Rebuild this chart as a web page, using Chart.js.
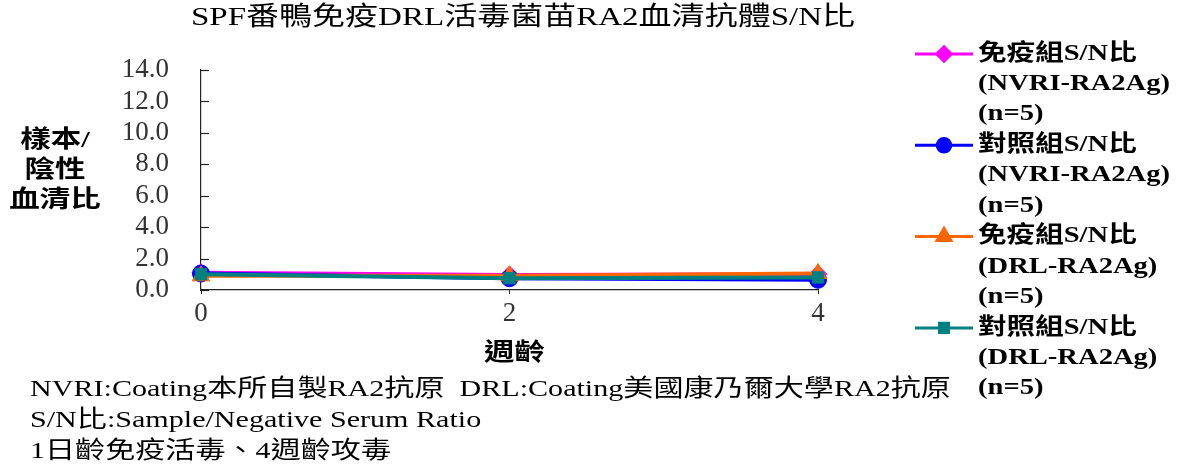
<!DOCTYPE html>
<html>
<head>
    <meta charset="utf-8">
    <title>SPF番鴨免疫DRL活毒菌苗RA2血清抗體S/N比</title>
    <script src="https://cdn.jsdelivr.net/npm/chart.js"></script>
    <style>
        body { margin: 0; background: #fff; }
        #wrap { position: relative; width: 1181px; height: 465px; }
    </style>
</head>
<body>
    <div id="wrap">
        <canvas id="snChart"></canvas>
    </div>

    <script>
        // weeks of age
        const weeks = ['0', '2', '4'];

        // S/N ratio per group (n=5)
        const immuneNvri = [1.1, 0.95, 1.0];
        const controlNvri = [1.05, 0.75, 0.65];
        const immuneDrl = [0.9, 0.9, 1.05];
        const controlDrl = [1.0, 0.75, 0.8];

        const legendLines = [
            ['免疫組S/N比', '(NVRI-RA2Ag)', '(n=5)'],
            ['對照組S/N比', '(NVRI-RA2Ag)', '(n=5)'],
            ['免疫組S/N比', '(DRL-RA2Ag)', '(n=5)'],
            ['對照組S/N比', '(DRL-RA2Ag)', '(n=5)']
        ];

        const titleText = 'SPF番鴨免疫DRL活毒菌苗RA2血清抗體S/N比';
        const yTitleLines = ['樣本/', '陰性', '血清比'];
        const xTitleText = '週齡';
        const notes = [
            'NVRI:Coating本所自製RA2抗原  DRL:Coating美國康乃爾大學RA2抗原',
            'S/N比:Sample/Negative Serum Ratio',
            '1日齡免疫活毒、4週齡攻毒'
        ];

        const SERIF = '"Liberation Serif", "Times New Roman", "Noto Sans CJK TC", serif';
        const STRETCH = 1.27; // text in this chart is drawn a bit wide

        function wideText(ctx, str, x, y, font, align) {
            ctx.save();
            ctx.font = font;
            ctx.fillStyle = '#000';
            ctx.textBaseline = 'middle';
            ctx.textAlign = 'left';
            const w = ctx.measureText(str).width * STRETCH;
            const left = align === 'center' ? x - w / 2 : x;
            ctx.translate(left, y);
            ctx.scale(STRETCH, 1);
            ctx.fillText(str, 0, 0);
            ctx.restore();
        }

        // title, horizontal axis titles, legend and notes
        const textPlugin = {
            id: 'chartText',
            afterDraw(chart) {
                const ctx = chart.ctx;
                const area = chart.chartArea;

                // short tick marks on the inside of the value axis
                const yScale = chart.scales.y;
                ctx.save();
                ctx.strokeStyle = '#222';
                ctx.lineWidth = 1.2;
                yScale.ticks.forEach(t => {
                    const py = Math.round(yScale.getPixelForValue(t.value)) + 0.5;
                    ctx.beginPath();
                    ctx.moveTo(area.left, py);
                    ctx.lineTo(area.left + 8, py);
                    ctx.stroke();
                });
                ctx.restore();

                wideText(ctx, titleText, 523, 18, '26px ' + SERIF, 'center');

                yTitleLines.forEach((t, i) => {
                    wideText(ctx, t, 55, 141 + i * 30, 'bold 24px ' + SERIF, 'center');
                });

                wideText(ctx, xTitleText, (area.left + area.right) / 2 + 5, 354, 'bold 24px ' + SERIF, 'center');

                notes.forEach((t, i) => {
                    wideText(ctx, t, 30, 390 + i * 31, '23.7px ' + SERIF, 'left');
                });

                // legend: line sample with marker, then three text lines
                chart.data.datasets.forEach((ds, i) => {
                    const y = 54 + i * 91.3;
                    ctx.save();
                    ctx.strokeStyle = ds.borderColor;
                    ctx.lineWidth = 3;
                    ctx.beginPath();
                    ctx.moveTo(915, y);
                    ctx.lineTo(973, y);
                    ctx.stroke();
                    ctx.fillStyle = ds.pointBackgroundColor;
                    ctx.strokeStyle = ds.borderColor;
                    Chart.helpers.drawPoint(ctx, {
                        pointStyle: ds.pointStyle,
                        radius: ds.pointRadius * 0.8,
                        rotation: 0,
                        borderWidth: 1
                    }, 944, y);
                    ctx.restore();
                    legendLines[i].forEach((t, j) => {
                        wideText(ctx, t, 978, y + j * 30.3, 'bold 22.5px ' + SERIF, 'left');
                    });
                });
            }
        };

        const ctx = document.getElementById('snChart').getContext('2d');
        new Chart(ctx, {
            type: 'line',
            data: {
                labels: weeks,
                datasets: [
                    {
                        label: legendLines[0].join(' '),
                        data: immuneNvri,
                        borderColor: '#FF00FF',
                        pointBackgroundColor: '#FF00FF',
                        pointStyle: 'rectRot',
                        pointRadius: 9,
                        order: 4
                    },
                    {
                        label: legendLines[1].join(' '),
                        data: controlNvri,
                        borderColor: '#0000FF',
                        pointBackgroundColor: '#0000FF',
                        pointStyle: 'circle',
                        pointRadius: 8.5,
                        order: 3
                    },
                    {
                        label: legendLines[2].join(' '),
                        data: immuneDrl,
                        borderColor: '#FF6600',
                        pointBackgroundColor: '#FF6600',
                        pointStyle: 'triangle',
                        pointRadius: 10,
                        order: 2
                    },
                    {
                        label: legendLines[3].join(' '),
                        data: controlDrl,
                        borderColor: '#008080',
                        pointBackgroundColor: '#008080',
                        pointStyle: 'rect',
                        pointRadius: 8,
                        order: 1
                    }
                ].map(ds => Object.assign({
                    borderWidth: 4,
                    pointBorderWidth: 1,
                    pointBorderColor: ds.borderColor,
                    tension: 0,
                    fill: false
                }, ds))
            },
            options: {
                responsive: true,
                maintainAspectRatio: false,
                animation: false,
                layout: {
                    padding: { top: 70, left: 0, right: 363, bottom: 0 }
                },
                plugins: {
                    legend: { display: false },
                    title: { display: false },
                    tooltip: { enabled: false }
                },
                scales: {
                    x: {
                        offset: false,
                        afterFit: scale => { scale.height = 175; },
                        grid: {
                            drawOnChartArea: false,
                            drawTicks: true,
                            tickLength: 4,
                            color: '#222'
                        },
                        border: { display: true, color: '#222', width: 1.2 },
                        ticks: {
                            padding: 4,
                            color: '#333',
                            font: { family: SERIF, size: 27 }
                        }
                    },
                    y: {
                        min: 0,
                        max: 14,
                        afterFit: scale => { scale.width = 201; },
                        grid: {
                            display: false,
                            drawTicks: false
                        },
                        border: { display: true, color: '#222', width: 1.2 },
                        ticks: {
                            stepSize: 2,
                            autoSkip: false,
                            padding: 32,
                            color: '#333',
                            font: { family: SERIF, size: 27 },
                            callback: v => v.toFixed(1)
                        }
                    }
                }
            },
            plugins: [textPlugin]
        });
    </script>
</body>
</html>
